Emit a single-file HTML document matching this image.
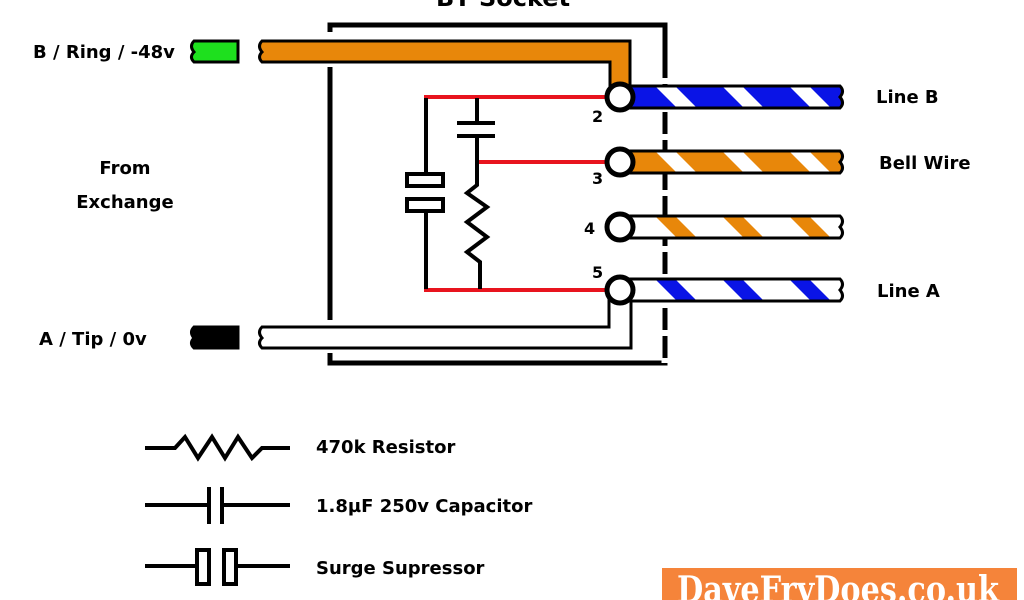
<!DOCTYPE html>
<html><head><style>
html,body{margin:0;padding:0;background:#fff;width:1024px;height:600px;overflow:hidden}
svg{display:block}
text{font-family:"DejaVu Sans","Liberation Sans",sans-serif;font-weight:bold;fill:#000}
</style></head><body>
<svg width="1024" height="600" viewBox="0 0 1024 600" xmlns="http://www.w3.org/2000/svg">
<defs>
<pattern id="pb" patternUnits="userSpaceOnUse" width="67" height="22" patternTransform="translate(655,86) skewX(45)">
<rect width="67" height="22" fill="#0a14e6"/><rect x="0" width="20" height="22" fill="#fff"/></pattern>
<pattern id="po" patternUnits="userSpaceOnUse" width="67" height="22" patternTransform="translate(655,151) skewX(45)">
<rect width="67" height="22" fill="#e8870a"/><rect x="0" width="20" height="22" fill="#fff"/></pattern>
<pattern id="pwo" patternUnits="userSpaceOnUse" width="67" height="22" patternTransform="translate(655,216) skewX(45)">
<rect width="67" height="22" fill="#fff"/><rect x="0" width="20" height="22" fill="#e8870a"/></pattern>
<pattern id="pwb" patternUnits="userSpaceOnUse" width="67" height="22" patternTransform="translate(655,279) skewX(45)">
<rect width="67" height="22" fill="#fff"/><rect x="0" width="20" height="22" fill="#0a14e6"/></pattern>
</defs>
<text x="503" y="6" font-size="24" text-anchor="middle">BT Socket</text>
<g stroke="#000" stroke-width="5" fill="none">
<path d="M330,32 V25 H665 V363 H330 V353"/>
<path d="M330,67 V320"/>
</g>
<g stroke="#fff" stroke-width="7" stroke-dasharray="6 22">
<path d="M665,78 V363"/>
</g>
<path d="M262,41 H630 V97 H610 V62 H262 Q257,57 262,52 Q257,46 262,41 Z" fill="#e8870a" stroke="#000" stroke-width="3"/>
<path d="M238,41 H194 Q189,46 194,52 Q189,57 194,62 H238 Z" fill="#1ee01e" stroke="#000" stroke-width="3"/>
<path d="M238,327 H194 Q189,332 194,338 Q189,343 194,348 H238 Z" fill="#000" stroke="#000" stroke-width="3"/>
<path d="M262,327 H609 V290 H631 V348 H262 Q257,343 262,338 Q257,332 262,327 Z" fill="#fff" stroke="#000" stroke-width="3"/>
<g stroke="#000" stroke-width="3">
<path d="M620,86 H840 Q845,91 840,97 Q845,103 840,108 H620 Z" fill="url(#pb)"/>
<path d="M620,151 H840 Q845,156 840,162 Q845,168 840,173 H620 Z" fill="url(#po)"/>
<path d="M620,216 H840 Q845,221 840,227 Q845,233 840,238 H620 Z" fill="url(#pwo)"/>
<path d="M620,279 H840 Q845,284 840,290 Q845,296 840,301 H620 Z" fill="url(#pwb)"/>
</g>
<g stroke="#e8141e" stroke-width="4">
<path d="M424,97 H607"/><path d="M476,162 H607"/><path d="M424,290 H607"/>
</g>
<g stroke="#000" stroke-width="4" fill="none">
<path d="M426,98 V173 M426,212 V289"/>
<rect x="407" y="174" width="36" height="12"/><rect x="407" y="199" width="36" height="12"/>
<path d="M477,98 V123 M457,123 H495 M457,136 H495 M477,136 V185 L467,193 L487,207 L467,222 L487,237 L467,252 L480,262 V289"/>
</g>
<g fill="#fff" stroke="#000" stroke-width="5">
<circle cx="620" cy="97" r="13"/><circle cx="620" cy="162" r="13"/><circle cx="620" cy="227" r="13"/><circle cx="620" cy="290" r="13"/>
</g>
<g font-size="16">
<text x="592" y="122">2</text><text x="592" y="184">3</text><text x="584" y="234">4</text><text x="592" y="278">5</text>
</g>
<g font-size="18">
<text x="33" y="58">B / Ring / -48v</text>
<text x="39" y="345">A / Tip / 0v</text>
<text x="125" y="174" text-anchor="middle">From</text>
<text x="125" y="208" text-anchor="middle">Exchange</text>
<text x="876" y="103">Line B</text>
<text x="879" y="169">Bell Wire</text>
<text x="877" y="297">Line A</text>
<text x="316" y="453">470k Resistor</text>
<text x="316" y="512">1.8µF 250v Capacitor</text>
<text x="316" y="574">Surge Supressor</text>
</g>
<g stroke="#000" stroke-width="4" fill="none">
<path d="M145,448 H175 L185,437 L198,458 L212,437 L225,458 L238,437 L252,458 L262,448 H290"/>
<path d="M145,505 H208 M209,487 V524 M222,487 V524 M223,505 H290"/>
<path d="M145,566 H196 M237,566 H290"/>
<rect x="197" y="550" width="12" height="34"/><rect x="224" y="550" width="12" height="34"/>
</g>
<rect x="662" y="568" width="355" height="32" fill="#f5843a"/>
<text x="838" y="602" font-size="36" style="fill:#fff;font-family:'DejaVu Serif','Liberation Serif',serif;font-weight:bold" text-anchor="middle" textLength="322" lengthAdjust="spacingAndGlyphs">DaveFryDoes.co.uk</text>
</svg>
</body></html>
